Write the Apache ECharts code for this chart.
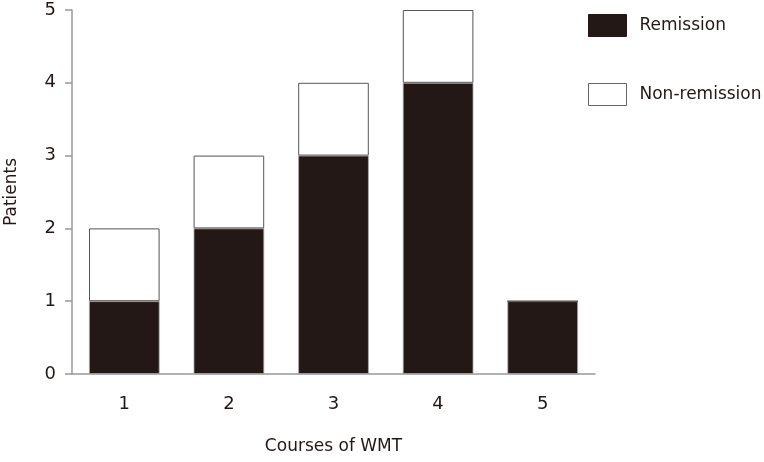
<!DOCTYPE html>
<html><head><meta charset="utf-8">
<script src="https://cdn.jsdelivr.net/npm/echarts@6/dist/echarts.min.js"></script>
<style>html,body{margin:0;padding:0;background:#fff}#c{width:764px;height:462px}</style>
</head><body><div id="c"></div>
<script>
const categories = ['1', '2', '3', '4', '5'];
const remission = [1, 2, 3, 4, 1];
const nonRemission = [1, 1, 1, 1, 0];
const yTicks = [0, 1, 2, 3, 4, 5];

const font = 'DejaVu Sans';
const chart = echarts.init(document.getElementById('c'), null, {renderer: 'canvas'});
chart.setOption({
  animation: false,
  textStyle: {fontFamily: font},
  grid: {left: 72, right: 169, top: 10, bottom: 88, containLabel: false, outerBoundsMode: 'none'},
  legend: {
    left: 583, top: 9, orient: 'vertical', itemWidth: 38, itemHeight: 22, itemGap: 46, icon: 'rect',
    textStyle: {fontFamily: font, fontSize: 17, color: '#231815', padding: [0, 0, 0, 8]},
    data: [
      {name: 'Remission', itemStyle: {color: '#231815', borderColor: '#231815', borderWidth: 1}},
      {name: 'Non-remission', itemStyle: {color: '#fff', borderColor: '#666', borderWidth: 1}}
    ]
  },
  xAxis: {
    type: 'category', data: categories,
    name: 'Courses of WMT', nameLocation: 'middle', nameGap: 64,
    nameTextStyle: {fontFamily: font, fontSize: 17, color: '#231815'},
    axisLine: {lineStyle: {color: '#999', width: 1.5}},
    axisTick: {alignWithLabel: true, length: 8, lineStyle: {color: '#444'}},
    axisLabel: {fontFamily: font, fontSize: 18, color: '#231815', margin: 21}
  },
  yAxis: {
    type: 'value', min: 0, max: 5, interval: 1,
    name: 'Patients', nameLocation: 'middle', nameGap: 52,
    nameTextStyle: {fontFamily: font, fontSize: 17, color: '#231815'},
    axisLine: {show: true, lineStyle: {color: '#999', width: 1.5}},
    axisTick: {show: true, length: 7, lineStyle: {color: '#999', width: 1.5}},
    axisLabel: {fontFamily: font, fontSize: 18, color: '#231815', margin: 16,
      formatter: v => yTicks.includes(v) ? String(v) : ''},
    splitLine: {show: false}
  },
  series: [
    {name: 'Remission', type: 'bar', stack: 's', data: remission, barWidth: '67.5%',
      itemStyle: {color: '#231815', borderColor: '#aaa', borderWidth: 0.8}},
    {name: 'Non-remission', type: 'bar', stack: 's', data: nonRemission, barWidth: '67.5%',
      itemStyle: {color: '#fff', borderColor: '#555', borderWidth: 1}}
  ]
});
</script></body></html>
